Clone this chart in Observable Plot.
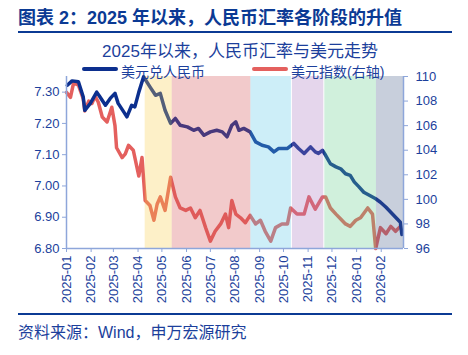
<!DOCTYPE html>
<html><head><meta charset="utf-8">
<script src="https://cdn.jsdelivr.net/npm/d3@7"></script>
<script src="https://cdn.jsdelivr.net/npm/@observablehq/plot@0.6"></script>
<style>
body{margin:0;background:#fff;font-family:"Liberation Sans",Arial,"Noto Sans CJK SC",sans-serif;}
#wrap{position:relative;width:468px;height:355px;overflow:hidden;background:#fff;}
#chart{position:absolute;left:0;top:0;}
.abs{position:absolute;white-space:nowrap;}
#title{left:18px;top:8px;font-size:18px;font-weight:bold;color:#0b3a94;line-height:20px;}
.hr{position:absolute;left:18px;width:434px;height:2px;background:#0b3a94;}
#sub{left:0;width:480px;text-align:center;top:42px;font-size:17px;color:#1c3f9c;line-height:20px;}
.leg{font-size:14px;color:#1c3f9c;line-height:16px;top:64px;}
.sw{position:absolute;height:4px;top:67px;border-radius:2px;}
#src{left:18px;top:324px;font-size:16px;color:#1c3f9c;line-height:18px;}
</style></head><body>
<div id="wrap">
  <div id="chart"></div>
  <div id="title" class="abs">图表 2：2025 年以来，人民币汇率各阶段的升值</div>
  <div class="hr" style="top:31px"></div>
  <div id="sub" class="abs">2025年以来，人民币汇率与美元走势</div>
  <div class="sw" style="left:82px;width:36px;background:#0c2f8e"></div>
  <div class="abs leg" style="left:121px">美元兑人民币</div>
  <div class="sw" style="left:252px;width:36px;background:#e4605e"></div>
  <div class="abs leg" style="left:291px">美元指数(右轴)</div>
  <div class="hr" style="top:313px"></div>
  <div id="src" class="abs">资料来源：Wind，申万宏源研究</div>
</div>
<script>
// USD/CNY (left axis)
const cnyDates = ["2025-01-02","2025-01-08","2025-01-16","2025-01-22","2025-01-24","2025-01-31","2025-02-08","2025-02-12","2025-02-19","2025-02-25","2025-03-03","2025-03-07","2025-03-14","2025-03-18","2025-03-24","2025-03-28","2025-04-02","2025-04-08","2025-04-16","2025-04-23","2025-04-29","2025-05-05","2025-05-12","2025-05-18","2025-05-24","2025-06-02","2025-06-10","2025-06-16","2025-06-23","2025-07-01","2025-07-09","2025-07-16","2025-07-22","2025-07-28","2025-08-02","2025-08-06","2025-08-12","2025-08-20","2025-08-27","2025-09-04","2025-09-12","2025-09-19","2025-09-25","2025-10-06","2025-10-14","2025-10-20","2025-10-27","2025-11-04","2025-11-10","2025-11-14","2025-11-19","2025-11-23","2025-11-29","2025-12-06","2025-12-12","2025-12-18","2025-12-24","2025-12-29","2026-01-04","2026-01-10","2026-01-17","2026-01-25","2026-01-31","2026-02-07","2026-02-13","2026-02-19","2026-02-25","2026-02-27"];
const cnyValues = [7.322,7.336,7.333,7.285,7.242,7.264,7.300,7.285,7.258,7.280,7.296,7.264,7.237,7.221,7.258,7.253,7.300,7.349,7.317,7.290,7.296,7.242,7.200,7.216,7.194,7.189,7.178,7.184,7.162,7.173,7.178,7.173,7.157,7.194,7.205,7.178,7.184,7.173,7.141,7.130,7.125,7.109,7.120,7.120,7.136,7.120,7.104,7.125,7.109,7.104,7.114,7.098,7.071,7.061,7.055,7.039,7.034,7.013,6.997,6.980,6.970,6.959,6.948,6.932,6.916,6.900,6.884,6.845];
// US dollar index (right axis)
const dxyDates = ["2025-01-01","2025-01-06","2025-01-10","2025-01-16","2025-01-22","2025-01-24","2025-01-29","2025-02-02","2025-02-06","2025-02-10","2025-02-15","2025-02-21","2025-02-27","2025-03-03","2025-03-05","2025-03-12","2025-03-16","2025-03-20","2025-03-26","2025-04-02","2025-04-06","2025-04-10","2025-04-16","2025-04-21","2025-04-25","2025-04-29","2025-05-05","2025-05-12","2025-05-18","2025-05-24","2025-05-31","2025-06-06","2025-06-12","2025-06-18","2025-06-25","2025-07-01","2025-07-07","2025-07-14","2025-07-20","2025-07-24","2025-07-28","2025-08-02","2025-08-08","2025-08-14","2025-08-20","2025-08-27","2025-09-02","2025-09-08","2025-09-15","2025-09-21","2025-09-29","2025-10-06","2025-10-10","2025-10-18","2025-10-27","2025-11-02","2025-11-10","2025-11-19","2025-11-23","2025-11-29","2025-12-06","2025-12-12","2025-12-18","2025-12-24","2025-12-31","2026-01-06","2026-01-15","2026-01-21","2026-01-25","2026-01-31","2026-02-07","2026-02-13","2026-02-19","2026-02-25"];
const dxyValues = [108.7,108.3,109.5,109.3,108.2,107.2,108.0,107.8,108.4,107.9,106.7,106.3,107.5,106.0,104.2,103.4,103.7,104.4,104.0,101.9,103.4,99.9,99.5,98.3,99.6,100.2,99.1,101.8,100.2,99.3,99.1,99.3,98.5,99.1,97.7,96.6,97.4,98.0,98.8,97.7,99.9,98.8,98.5,98.1,98.7,98.0,98.3,97.4,96.6,97.7,98.0,98.0,99.3,98.8,98.8,100.2,99.2,100.2,100.2,99.3,98.8,98.4,98.0,97.8,98.3,98.5,99.3,98.8,96.0,97.7,97.2,97.8,97.4,97.8];
// stage bands
const bandStart = ["2025-04-10","2025-05-14","2025-08-21","2025-10-11","2025-11-22","2026-01-26"];
const bandEnd   = ["2025-05-14","2025-08-21","2025-10-11","2025-11-22","2026-01-26","2026-03-01"];
const bandFill  = ["#f8cd48","#d44e52","#58c6e8","#a876c0","#62cd8a","#485f8a"];
const bandGapped = [false,false,false,true,false,false];
// axes
const xTickLabels = ["2025-01","2025-02","2025-03","2025-04","2025-05","2025-06","2025-07","2025-08","2025-09","2025-10","2025-11","2025-12","2026-01","2026-02"];
const leftTicks = [6.8,6.9,7.0,7.1,7.2,7.3];
const rightTicks = [96,98,100,102,104,106,108,110];
const leftDomain = [6.8,7.35];
const rightDomain = [96,110];
const xDomain = ["2025-01-01","2026-03-01"];

const P = d => new Date(d + (d.length === 7 ? "-01" : ""));
const toLeft = v => leftDomain[0] + (v - rightDomain[0]) * (leftDomain[1]-leftDomain[0]) / (rightDomain[1]-rightDomain[0]);
const fromLeft = v => rightDomain[0] + (v - leftDomain[0]) * (rightDomain[1]-rightDomain[0]) / (leftDomain[1]-leftDomain[0]);

const cny = cnyDates.map((d,i) => ({date: P(d), v: cnyValues[i]}));
const dxy = dxyDates.map((d,i) => ({date: P(d), v: toLeft(dxyValues[i])}));
const bands = bandStart.map((d,i) => ({x1: P(d), x2: P(bandEnd[i]), fill: bandFill[i], gap: bandGapped[i]}));

const axisStroke = "#8ea6da", textColor = "#1c3f9c";
const chart = Plot.plot({
  width: 468, height: 355,
  marginTop: 76, marginBottom: 107, marginLeft: 66, marginRight: 65,
  style: {fontSize: "13px", fontFamily: "'Liberation Sans', Arial, sans-serif", background: "transparent", overflow: "visible"},
  x: {type: "utc", domain: xDomain.map(P)},
  y: {domain: leftDomain},
  marks: [
    Plot.line(dxy, {x: "date", y: "v", stroke: "#e4605e", strokeWidth: 3.5, strokeLinejoin: "round"}),
    Plot.line(cny, {x: "date", y: "v", stroke: "#0c2f8e", strokeWidth: 3.5, strokeLinejoin: "round"}),
    Plot.rect(bands.filter(b => !b.gap), {x1: "x1", x2: "x2", fill: "fill", fillOpacity: 0.3}),
    Plot.rect(bands.filter(b => b.gap), {x1: "x1", x2: "x2", fill: "fill", fillOpacity: 0.3, insetLeft: 1, insetRight: 1}),
    Plot.ruleX([P(xDomain[0]), P(xDomain[1])], {stroke: axisStroke, strokeWidth: 1.5}),
    Plot.ruleY([leftDomain[0]], {stroke: axisStroke, strokeWidth: 1.5}),
    Plot.axisY(leftTicks, {anchor: "left", tickSize: 4, tickPadding: 3, stroke: axisStroke, fill: textColor, tickFormat: d => d.toFixed(2), label: null}),
    Plot.axisY(rightTicks.map(toLeft), {anchor: "right", tickSize: 4, tickPadding: 8, stroke: axisStroke, fill: textColor, tickFormat: d => String(Math.round(fromLeft(d))), label: null}),
    Plot.axisX(xTickLabels.map(P), {anchor: "bottom", tickSize: 4, tickPadding: 3, tickRotate: -90, stroke: axisStroke, fill: textColor, tickFormat: d3.utcFormat("%Y-%m"), label: null})
  ]
});
document.getElementById("chart").appendChild(chart);
</script>
</body></html>
